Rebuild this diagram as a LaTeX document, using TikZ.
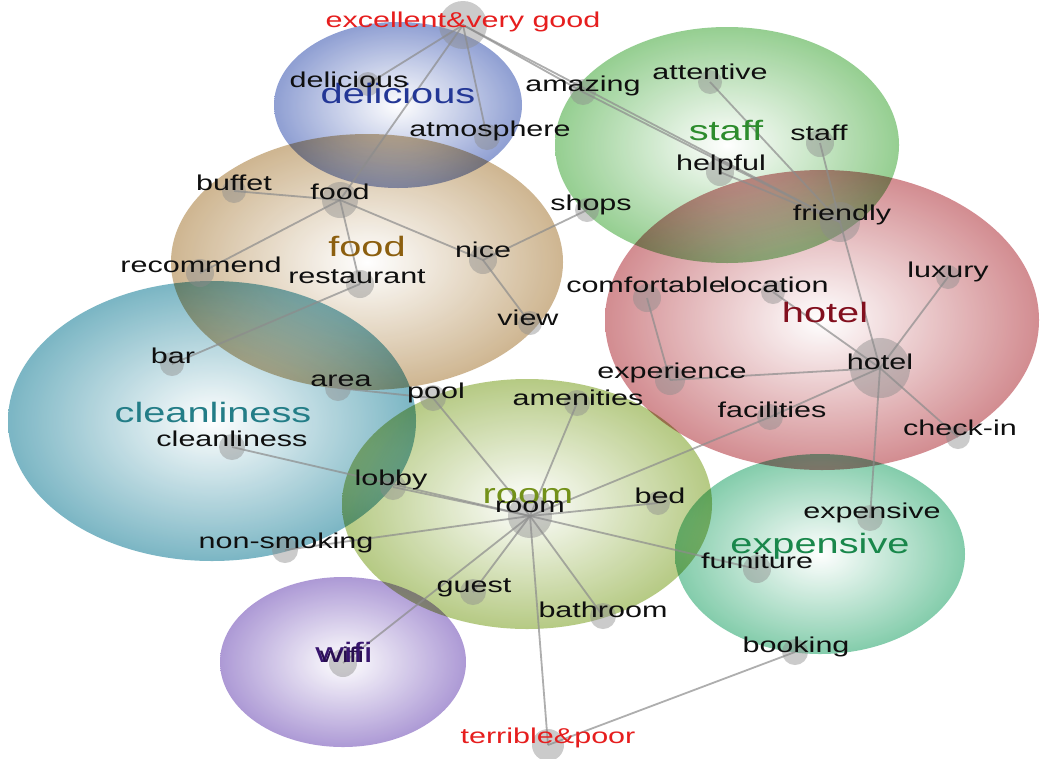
\documentclass[tikz,border=0pt]{standalone}
\usepackage{fontspec}
\setmainfont{Liberation Sans}[FakeStretch=1.42]
\definecolor{cBlue}{RGB}{128,146,205}
\definecolor{cStaff}{RGB}{135,200,130}
\definecolor{cFood}{RGB}{200,172,130}
\definecolor{cHotel}{RGB}{205,125,130}
\definecolor{cClean}{RGB}{105,172,188}
\definecolor{cRoom}{RGB}{172,195,115}
\definecolor{cExp}{RGB}{115,198,160}
\definecolor{cWifi}{RGB}{162,140,208}
\definecolor{tBlue}{RGB}{35,55,150}
\definecolor{tStaff}{RGB}{45,140,45}
\definecolor{tFood}{RGB}{140,95,15}
\definecolor{tHotel}{RGB}{130,15,30}
\definecolor{tClean}{RGB}{35,125,135}
\definecolor{tRoom}{RGB}{115,145,25}
\definecolor{tExp}{RGB}{25,135,75}
\definecolor{tWifi}{RGB}{55,20,110}
\definecolor{alertred}{RGB}{230,30,30}
\definecolor{wordblack}{RGB}{15,15,15}
\definecolor{dotgray}{RGB}{140,140,140}
\definecolor{linegray}{RGB}{140,140,140}
\begin{document}
\begin{tikzpicture}[x=1pt,y=-1pt,
  dot/.style={circle, fill=dotgray, fill opacity=0.45, draw=none, inner sep=0pt, minimum size=#1},
  dot/.default=26pt,
  link/.style={draw=linegray, line width=1.8pt, draw opacity=0.7},
  word/.style={anchor=base, inner sep=0pt, text=wordblack, font=\fontsize{21.5}{24}\selectfont},
  clabel/.style={anchor=base, inner sep=0pt, font=\fontsize{28}{32}\selectfont, text=#1},
  hilabel/.style={anchor=base, inner sep=0pt, text=alertred, font=\fontsize{21.5}{24}\selectfont},
  blob/.style={inner color=white, outer color=#1, fill opacity=0.88}]
\useasboundingbox (0,0) rectangle (1040,758);
\fill[white] (0,0) rectangle (1040,758);
% cluster ellipses
\begin{scope}[blend mode=multiply]
\shade[blob=cFood] (367,262) ellipse [x radius=196pt, y radius=128pt];
\shade[blob=cBlue] (398,105) ellipse [x radius=124pt, y radius=83pt];
\shade[blob=cStaff] (727,145) ellipse [x radius=172pt, y radius=118pt];
\shade[blob=cHotel] (822,320) ellipse [x radius=217pt, y radius=150pt];
\shade[blob=cClean] (212,421) ellipse [x radius=204pt, y radius=140pt];
\shade[blob=cRoom] (527,504) ellipse [x radius=185pt, y radius=125pt];
\shade[blob=cExp] (820,554) ellipse [x radius=145pt, y radius=100pt];
\shade[blob=cWifi] (343,662) ellipse [x radius=123pt, y radius=85pt];
\end{scope}
% dots
\node[dot=48pt] (exc) at (463,25) {};
\node[dot=24pt] (delicious) at (368,84) {};
\node[dot] (amazing) at (583,92) {};
\node[dot] (atmosphere) at (487,137) {};
\node[dot=24pt] (attentive) at (710,82) {};
\node[dot=28pt] (staff) at (820,143) {};
\node[dot=28pt] (helpful) at (720,172) {};
\node[dot=24pt] (shops) at (587,210) {};
\node[dot=40pt] (friendly) at (840,222) {};
\node[dot=24pt] (buffet) at (234,191) {};
\node[dot=36pt] (food) at (340,200) {};
\node[dot=28pt] (nice) at (483,260) {};
\node[dot=28pt] (recommend) at (200,273) {};
\node[dot=28pt] (restaurant) at (360,284) {};
\node[dot=24pt] (view) at (530,323) {};
\node[dot=24pt] (bar) at (172,364) {};
\node[dot] (area) at (338,388) {};
\node[dot] (pool) at (433,398) {};
\node[dot=28pt] (comfortable) at (647,298) {};
\node[dot=24pt] (location) at (773,292) {};
\node[dot=24pt] (luxury) at (948,277) {};
\node[dot=60pt] (hotel) at (880,368) {};
\node[dot=30pt] (experience) at (670,380) {};
\node[dot] (facilities) at (770,417) {};
\node[dot=24pt] (checkin) at (958,437) {};
\node[dot] (amenities) at (577,403) {};
\node[dot] (cleanliness) at (232,447) {};
\node[dot] (lobby) at (393,487) {};
\node[dot=44pt] (room) at (530,516) {};
\node[dot=24pt] (bed) at (658,503) {};
\node[dot] (nonsmoking) at (285,550) {};
\node[dot] (expensive) at (870,518) {};
\node[dot=28pt] (furniture) at (757,569) {};
\node[dot] (guest) at (473,592) {};
\node[dot] (bathroom) at (603,616) {};
\node[dot] (booking) at (795,652) {};
\node[dot=28pt] (wifi) at (343,663) {};
\node[dot=32pt] (terrible) at (548,745) {};
% links
\foreach \a/\b in {exc/delicious, exc/food, exc/atmosphere, exc/amazing, exc/friendly,
  amazing/friendly, attentive/friendly, helpful/friendly, staff/friendly, friendly/hotel,
  food/buffet, food/recommend, food/restaurant, food/nice, nice/shops, nice/view,
  restaurant/bar, area/pool, comfortable/experience, experience/hotel, location/hotel,
  luxury/hotel, hotel/checkin, hotel/facilities, facilities/room, hotel/expensive,
  room/pool, room/amenities, room/lobby, cleanliness/room, room/bed, room/nonsmoking,
  room/furniture, room/guest, room/bathroom, room/wifi, room/terrible, terrible/booking}
  \draw[link] (\a.center) -- (\b.center);
% cluster labels
\node[clabel=tBlue] (l-delicious) at (398,103) {delicious};
\node[clabel=tStaff] (l-staff) at (726,140) {staff};
\node[clabel=tFood] (l-food) at (367,256) {food};
\node[clabel=tHotel] (l-hotel) at (825,322) {hotel};
\node[clabel=tClean] (l-clean) at (213,422) {cleanliness};
\node[clabel=tRoom] (l-room) at (528,503) {room};
\node[clabel=tExp] (l-exp) at (820,553) {expensive};
\node[clabel=tWifi] (l-wifi) at (344,662) {wifi};
% words
\node[hilabel] (t-exc) at (463,27) {excellent\&very good};
\node[hilabel] (t-terrible) at (548,743) {terrible\&poor};
\node[word] (t-delicious) at (349,87) {delicious};
\node[word] (t-amazing) at (583,91) {amazing};
\node[word] (t-atmosphere) at (490,136) {atmosphere};
\node[word] (t-attentive) at (710,79) {attentive};
\node[word] (t-staff) at (819,140) {staff};
\node[word] (t-helpful) at (721,170) {helpful};
\node[word] (t-shops) at (591,210) {shops};
\node[word] (t-friendly) at (842,220) {friendly};
\node[word] (t-buffet) at (234,190) {buffet};
\node[word] (t-food) at (340,199) {food};
\node[word] (t-nice) at (483,257) {nice};
\node[word] (t-recommend) at (201,272) {recommend};
\node[word] (t-restaurant) at (357,283) {restaurant};
\node[word] (t-view) at (528,325) {view};
\node[word] (t-bar) at (173,363) {bar};
\node[word] (t-area) at (341,386) {area};
\node[word] (t-pool) at (436,398) {pool};
\node[word] (t-location) at (776,292) {location};
\node[word] (t-comfortable) at (646,292) {comfortable};
\node[word] (t-luxury) at (948,277) {luxury};
\node[word] (t-hotel) at (880,369) {hotel};
\node[word] (t-experience) at (672,378) {experience};
\node[word] (t-facilities) at (772,417) {facilities};
\node[word] (t-checkin) at (960,435) {check-in};
\node[word] (t-amenities) at (578,405) {amenities};
\node[word] (t-cleanliness) at (232,446) {cleanliness};
\node[word] (t-lobby) at (391,485) {lobby};
\node[word] (t-room) at (530,512) {room};
\node[word] (t-bed) at (660,503) {bed};
\node[word] (t-nonsmoking) at (286,548) {non-smoking};
\node[word] (t-expensive) at (872,518) {expensive};
\node[word] (t-furniture) at (757,568) {furniture};
\node[word] (t-guest) at (474,592) {guest};
\node[word] (t-bathroom) at (603,617) {bathroom};
\node[word] (t-booking) at (796,652) {booking};
\node[word, text=tWifi!70!black] (t-wifi) at (342,662) {wifi};
\end{tikzpicture}
\end{document}
